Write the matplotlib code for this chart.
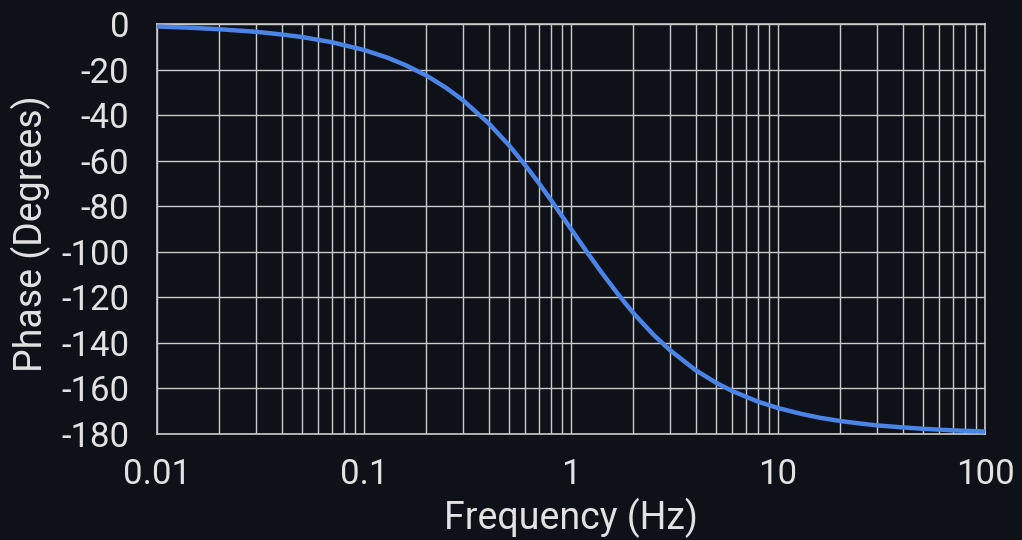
import matplotlib
matplotlib.use("Agg")
import matplotlib.pyplot as plt
from matplotlib.ticker import LogLocator, FixedLocator, FixedFormatter, NullFormatter

# Data
frequency_hz = [0.01, 0.015, 0.02, 0.03, 0.04, 0.05, 0.07, 0.1, 0.13, 0.16,
                0.2, 0.25, 0.3, 0.4, 0.5, 0.6, 0.7, 0.8, 0.9, 1.0,
                1.2, 1.4, 1.7, 2.0, 2.5, 3.0, 4.0, 5.0, 6.0, 8.0,
                10.0, 13.0, 16.0, 20.0, 25.0, 30.0, 40.0, 50.0, 70.0, 100.0]
phase_deg = [-1.1, -1.7, -2.3, -3.4, -4.6, -5.7, -8.0, -11.4, -14.8, -18.2,
             -22.6, -28.1, -33.4, -43.6, -53.1, -61.9, -69.9, -77.3, -84.0, -90.0,
             -100.4, -108.9, -119.0, -126.9, -136.4, -143.1, -152.0, -157.4, -161.1, -165.8,
             -168.6, -171.2, -172.9, -174.3, -175.4, -176.2, -177.1, -177.7, -178.4, -178.9]

x_ticks = [0.01, 0.1, 1, 10, 100]
x_tick_labels = ["0.01", "0.1", "1", "10", "100"]
y_ticks = [0, -20, -40, -60, -80, -100, -120, -140, -160, -180]
y_tick_labels = ["0", "-20", "-40", "-60", "-80", "-100", "-120", "-140", "-160", "-180"]

BG = "#0e1118"
GRID = "#c9c9c9"
TEXT = "#e2e2e2"
LINE = "#4a84e6"

plt.rcParams["font.family"] = ["Roboto", "DejaVu Sans"]

fig = plt.figure(figsize=(10.22, 5.4), dpi=100, facecolor=BG)
ax = fig.add_axes([157 / 1022, 1 - 434 / 540, 828 / 1022, 410 / 540])
ax.set_facecolor(BG)

ax.set_xscale("log")
ax.set_xlim(0.01, 100)
ax.set_ylim(-180, 0)

ax.plot(frequency_hz, phase_deg, color=LINE, linewidth=3.2, solid_capstyle="round", zorder=3)

ax.xaxis.set_major_locator(FixedLocator(x_ticks))
ax.xaxis.set_major_formatter(FixedFormatter(x_tick_labels))
ax.xaxis.set_minor_locator(LogLocator(base=10, subs=range(2, 10), numticks=20))
ax.xaxis.set_minor_formatter(NullFormatter())
ax.yaxis.set_major_locator(FixedLocator(y_ticks))
ax.yaxis.set_major_formatter(FixedFormatter(y_tick_labels))

ax.grid(True, which="both", axis="x", color=GRID, linewidth=1.0)
ax.grid(True, which="major", axis="y", color=GRID, linewidth=1.0)
ax.set_axisbelow(True)

for s in ax.spines.values():
    s.set_color(GRID)
    s.set_linewidth(1.2)

ax.tick_params(axis="both", which="both", length=0, colors=TEXT, labelsize=25)
ax.tick_params(axis="y", pad=20)
ax.tick_params(axis="x", pad=17)

ax.set_xlabel("Frequency (Hz)", fontsize=27, color=TEXT)
ax.set_ylabel("Phase (Degrees)", fontsize=27, color=TEXT)
ax.xaxis.label.set_va("center")
ax.yaxis.label.set_va("center")
ax.xaxis.set_label_coords(0.5, (434 - 518) / 410)
ax.yaxis.set_label_coords((31 - 157) / 828, (434 - 234) / 410)

fig.savefig("out.png", dpi=100, facecolor=BG)
